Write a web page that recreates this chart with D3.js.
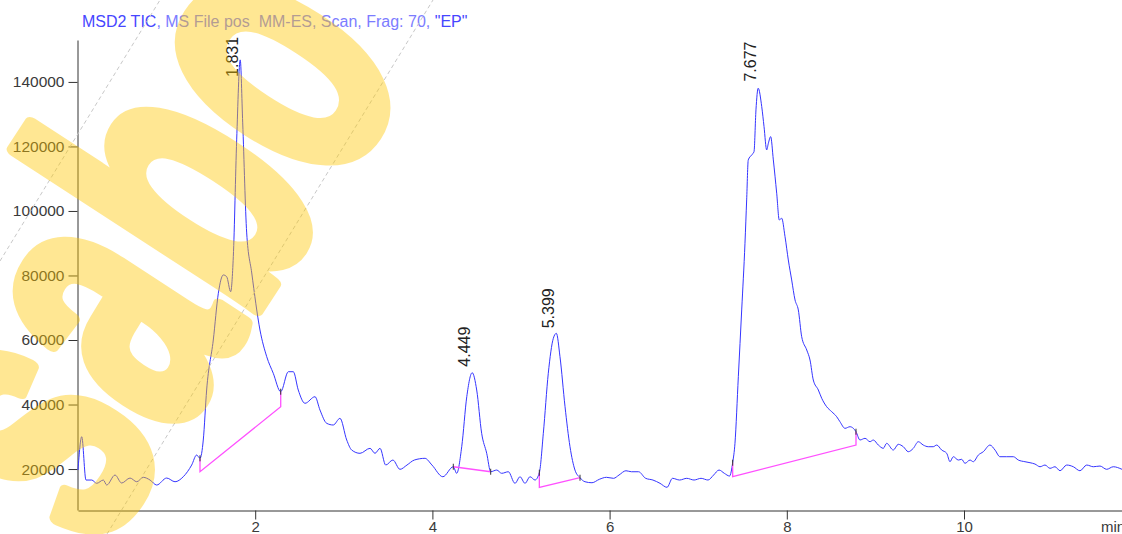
<!DOCTYPE html>
<html>
<head>
<meta charset="utf-8">
<script src="https://cdn.jsdelivr.net/npm/d3@7/dist/d3.min.js"></script>
<style>
  body { margin: 0; background: #fff; }
  svg { display: block; font-family: "Liberation Sans", Arial, sans-serif; }
</style>
</head>
<body>
<div id="grafico"></div>
<script>

const tempi = [
  0.00, 0.042, 0.090, 0.155, 0.211, 0.286, 0.324, 0.418, 0.493, 0.587,
  0.663, 0.737, 0.813, 0.888, 1.001, 1.095, 1.188, 1.283, 1.339, 1.377,
  1.414, 1.452, 1.527, 1.584, 1.640, 1.678, 1.723, 1.753, 1.791, 1.831,
  1.859, 1.904, 1.961, 2.054, 2.130, 2.204, 2.288, 2.374, 2.430, 2.486,
  2.562, 2.675, 2.731, 2.807, 2.881, 2.957, 3.033, 3.089, 3.183, 3.296,
  3.352, 3.409, 3.473, 3.554, 3.634, 3.713, 3.796, 3.916, 3.995, 4.118,
  4.236, 4.274, 4.331, 4.388, 4.449, 4.500, 4.556, 4.613, 4.658, 4.726,
  4.782, 4.857, 4.932, 4.989, 5.045, 5.102, 5.158, 5.207, 5.252, 5.308,
  5.365, 5.399, 5.440, 5.497, 5.553, 5.609, 5.666, 5.722, 5.801, 5.884,
  5.964, 6.045, 6.106, 6.185, 6.246, 6.327, 6.407, 6.489, 6.569, 6.648,
  6.710, 6.790, 6.871, 6.953, 7.032, 7.111, 7.174, 7.235, 7.295, 7.354,
  7.389, 7.415, 7.453, 7.491, 7.528, 7.547, 7.565, 7.604, 7.630, 7.652,
  7.677, 7.717, 7.743, 7.773, 7.792, 7.818, 7.848, 7.886, 7.915, 7.942,
  7.980, 8.017, 8.055, 8.093, 8.130, 8.168, 8.225, 8.262, 8.299, 8.356,
  8.394, 8.450, 8.507, 8.563, 8.600, 8.657, 8.713, 8.751, 8.781, 8.826,
  8.883, 8.939, 8.976, 9.033, 9.089, 9.127, 9.202, 9.258, 9.315, 9.371,
  9.428, 9.484, 9.540, 9.597, 9.653, 9.692, 9.748, 9.805, 9.842, 9.879,
  9.936, 9.974, 10.011, 10.068, 10.105, 10.162, 10.218, 10.293, 10.350, 10.406,
  10.482, 10.557, 10.613, 10.688, 10.745, 10.801, 10.858, 10.914, 10.971, 11.027,
  11.084, 11.159, 11.234, 11.309, 11.385, 11.460, 11.535, 11.610, 11.685, 11.783
];
const conteggi = [
  19700, 30020, 16590, 16590, 15570, 16590, 15040, 18140, 15660, 17210,
  16060, 17430, 16590, 15040, 17210, 16060, 17610, 21240, 24340, 23320,
  28990, 44500, 60000, 74490, 80160, 79630, 74980, 85840, 122030, 146830,
  127300, 93190, 80780, 63100, 54830, 49680, 43970, 50170, 50170, 44500,
  40380, 42420, 38300, 34170, 33650, 35720, 28990, 25890, 24870, 26420,
  24870, 26420, 21240, 22790, 19910, 21240, 22790, 23320, 21240, 17610,
  20710, 18670, 26920, 42420, 49860, 44500, 31070, 24870, 19160, 19690,
  18670, 19160, 15570, 17610, 15570, 17610, 16590, 18850, 31070, 49680,
  60530, 62080, 54830, 39320, 26920, 19690, 17300, 16060, 15750, 16810,
  17430, 17120, 18140, 19470, 19160, 19160, 17120, 16590, 15570, 14330,
  17120, 16590, 17120, 16590, 17120, 16590, 18140, 19690, 18670, 17830,
  21950, 27970, 48620, 69310, 89990, 103420, 115820, 117370, 118400, 131330,
  138060, 132350, 126150, 118920, 121000, 123050, 115820, 105500, 97220, 97740,
  92040, 84810, 78610, 72410, 69310, 61030, 56900, 53800, 47600, 44500,
  41930, 39320, 37770, 36220, 34670, 32620, 33120, 32620, 31570, 29000,
  29520, 28470, 29000, 27440, 26420, 27970, 25890, 27660, 26920, 25370,
  26420, 28470, 27440, 26920, 26920, 27440, 25890, 24870, 22270, 23820,
  22790, 23010, 21770, 22790, 22270, 24340, 25370, 27440, 25890, 23820,
  23820, 23820, 22790, 22270, 21960, 21550, 20710, 21240, 20220, 20710,
  19470, 21240, 20710, 19470, 21240, 20710, 20930, 19910, 20710, 19910
];

// picchi: tempo, etichetta e quota dove inizia l'etichetta
const picchiTempo = [1.831, 4.449, 5.399, 7.677];
const picchiEtichetta = ["1.831", "4.449", "5.399", "7.677"];
const picchiQuota = [141560, 51720, 63630, 140100];

// linee di base dell'integrazione
const basiInizio = [1.377, 4.236, 5.207, 7.389];
const basiInizioTraccia = [23320, 20710, 18850, 21950];
const basiInizioBase = [19160, 20710, 14330, 17610];
const basiFine = [2.288, 4.658, 5.666, 8.781];
const basiFineBase = [39320, 19160, 17300, 27440];
const basiFineTraccia = [43970, 19160, 17300, 31570];

// tacche degli assi
const xTacche = [2, 4, 6, 8, 10];
const xTaccheMinori = d3.range(0.5, 12, 0.5).filter(d => d % 2 !== 0);
const yTacche = [20000, 40000, 60000, 80000, 100000, 120000, 140000];
const yTaccheMinori = d3.range(10000, 150001, 5000).filter(d => d % 20000 !== 0);


const larghezza = 1122;
const altezza = 534;

let svg = d3.select("#grafico")
    .append("svg")
    .attr("width", larghezza)
    .attr("height", altezza);

svg.append("rect")
    .attr("width", larghezza)
    .attr("height", altezza)
    .attr("fill", "#fff");

let x = d3.scaleLinear().domain([0, 12]).range([78, 78 + 12 * 88.6]);
let y = d3.scaleLinear().domain([7300, 153000]).range([510, 40]);

// titolo
let titolo = svg.append("text")
    .attr("x", 82)
    .attr("y", 26.5)
    .style("font-size", "16px");
titolo.append("tspan").attr("fill", "#4646ff").text("MSD2 TIC");
titolo.append("tspan").attr("fill", "#7c7cff").text(", MS File pos\u00a0\u00a0MM-ES, Scan, Frag: 70, ");
titolo.append("tspan").attr("fill", "#4646ff").text("\"EP\"");

// asse y
let assey = svg.append("g").attr("transform", "translate(77.5,0)");
assey.call(d3.axisLeft(y).tickValues(yTaccheMinori).tickSize(5).tickSizeOuter(0).tickFormat(""));
assey.call(d3.axisLeft(y).tickValues(yTacche).tickSize(9).tickPadding(4).tickSizeOuter(0).tickFormat(d3.format("d")));

// asse x
let assex = svg.append("g").attr("transform", "translate(0,510.5)");
assex.call(d3.axisBottom(x).tickValues(xTaccheMinori).tickSize(4).tickSizeOuter(0).tickFormat(""));
assex.call(d3.axisBottom(x).tickValues(xTacche).tickSize(9).tickPadding(2).tickSizeOuter(0).tickFormat(d3.format("d")));

svg.selectAll(".tick text")
    .style("font-family", "'Liberation Sans', Arial, sans-serif")
    .style("font-size", "15.5px")
    .attr("fill", "#3a3a3a");
assex.selectAll(".tick text").style("font-size", "15px");
svg.selectAll(".domain, .tick line").attr("stroke", "#333");

svg.append("text")
    .attr("x", 1101)
    .attr("y", 532)
    .style("font-size", "15px")
    .attr("fill", "#3a3a3a")
    .text("min");

// traccia TIC
let punti = tempi.map((t, i) => [t, conteggi[i]]);
let linea = d3.line()
    .x(d => x(d[0]))
    .y(d => y(d[1]))
    .curve(d3.curveMonotoneX);

svg.append("path")
    .datum(punti)
    .attr("d", linea)
    .attr("fill", "none")
    .attr("stroke", "#3535ff")
    .attr("stroke-width", 1);

// linee di base dell'integrazione (magenta)
basiInizio.forEach((t0, i) => {
    let t1 = basiFine[i];
    let pts = [
        [t0, basiInizioTraccia[i]],
        [t0, basiInizioBase[i]],
        [t1, basiFineBase[i]],
        [t1, basiFineTraccia[i]]
    ];
    svg.append("path")
        .attr("d", d3.line().x(d => x(d[0])).y(d => y(d[1]))(pts))
        .attr("fill", "none")
        .attr("stroke", "#ff50ff")
        .attr("stroke-width", 1.3);

    // piccoli segni scuri agli estremi
    [[t0, basiInizioTraccia[i]], [t1, basiFineTraccia[i]]].forEach(p => {
        svg.append("line")
            .attr("x1", x(p[0])).attr("x2", x(p[0]))
            .attr("y1", y(p[1]) - 3).attr("y2", y(p[1]) + 3)
            .attr("stroke", "#333")
            .attr("stroke-width", 1);
    });
});

// etichette dei picchi
svg.selectAll(".etichetta")
    .data(picchiTempo)
    .enter().append("text")
    .attr("class", "etichetta")
    .attr("transform", (d, i) => `translate(${x(d) - 2.5},${y(picchiQuota[i])}) rotate(-90)`)
    .style("font-size", "16px")
    .attr("fill", "#222")
    .text((d, i) => picchiEtichetta[i]);

// filigrana: linee tratteggiate e testo giallo semitrasparente
svg.append("line")
    .attr("x1", 0).attr("y1", 261).attr("x2", 160).attr("y2", 0)
    .attr("stroke", "#c8c8c8").attr("stroke-dasharray", "4,3");
svg.append("line")
    .attr("x1", 107).attr("y1", 534).attr("x2", 433).attr("y2", 0)
    .attr("stroke", "#c8c8c8").attr("stroke-dasharray", "4,3");

svg.append("text")
    .attr("transform", "translate(96,556) rotate(-57) scale(0.83,1.33)")
    .style("font-size", "300px")
    .style("font-weight", "bold")
    .attr("fill", "#ffc800")
    .attr("stroke", "#ffc800")
    .attr("stroke-width", 12)
    .attr("stroke-linejoin", "round")
    .attr("opacity", 0.42)
    .text("sabo");

</script>
</body>
</html>
